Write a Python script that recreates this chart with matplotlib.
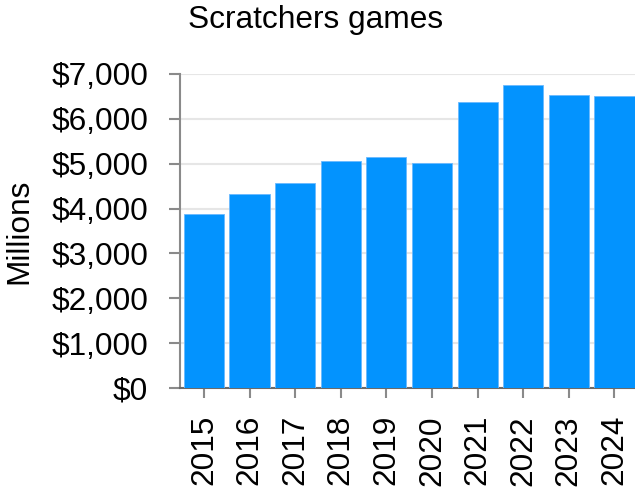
import matplotlib
matplotlib.use("Agg")
import matplotlib.pyplot as plt
from matplotlib.ticker import FuncFormatter

years = ["2015", "2016", "2017", "2018", "2019", "2020", "2021", "2022", "2023", "2024"]
sales = [3880, 4330, 4560, 5060, 5150, 5020, 6370, 6760, 6540, 6500]
yticks = [0, 1000, 2000, 3000, 4000, 5000, 6000, 7000]

plt.rcParams['font.family'] = ['Liberation Sans', 'DejaVu Sans']

W, H = 635, 490
fig = plt.figure(figsize=(W / 100, H / 100), dpi=100)
ax = fig.add_axes([180 / W, 1 - 388 / H, (W - 180) / W, (388 - 74) / H])

x = list(range(len(years)))
ax.bar(x, sales, width=0.88, color='#0393FE', edgecolor='#6ab9ff', linewidth=0.6, zorder=3)

ax.set_xlim(-0.525, 9.45)
ax.set_ylim(0, 7000)
ax.set_yticks(yticks)
ax.yaxis.set_major_formatter(FuncFormatter(lambda v, p: f"${int(v):,}"))
ax.set_xticks(x)
ax.set_xticklabels(years, rotation=90)

ax.grid(axis='y', color='#e6e6e6', linewidth=1.5, zorder=0)
ax.set_axisbelow(True)

for s in ['top', 'right']:
    ax.spines[s].set_visible(False)
ax.spines['left'].set_color('#8a8a8a')
ax.spines['left'].set_linewidth(1.5)
ax.spines['bottom'].set_color('#6a6a6a')
ax.spines['bottom'].set_linewidth(1.5)

ax.tick_params(axis='y', length=8, width=1.5, color='#8a8a8a', pad=15, labelsize=22.8, labelcolor='black')
ax.tick_params(axis='x', length=7.5, width=1.5, color='#8a8a8a', pad=12, labelsize=22.8, labelcolor='black')

ax.set_ylabel("Millions", fontsize=22.8, labelpad=12)
fig.text(315.5 / W, 1 - 20 / H, "Scratchers games", ha='center', va='center', fontsize=22.8)

fig.savefig("out.png", dpi=100)
